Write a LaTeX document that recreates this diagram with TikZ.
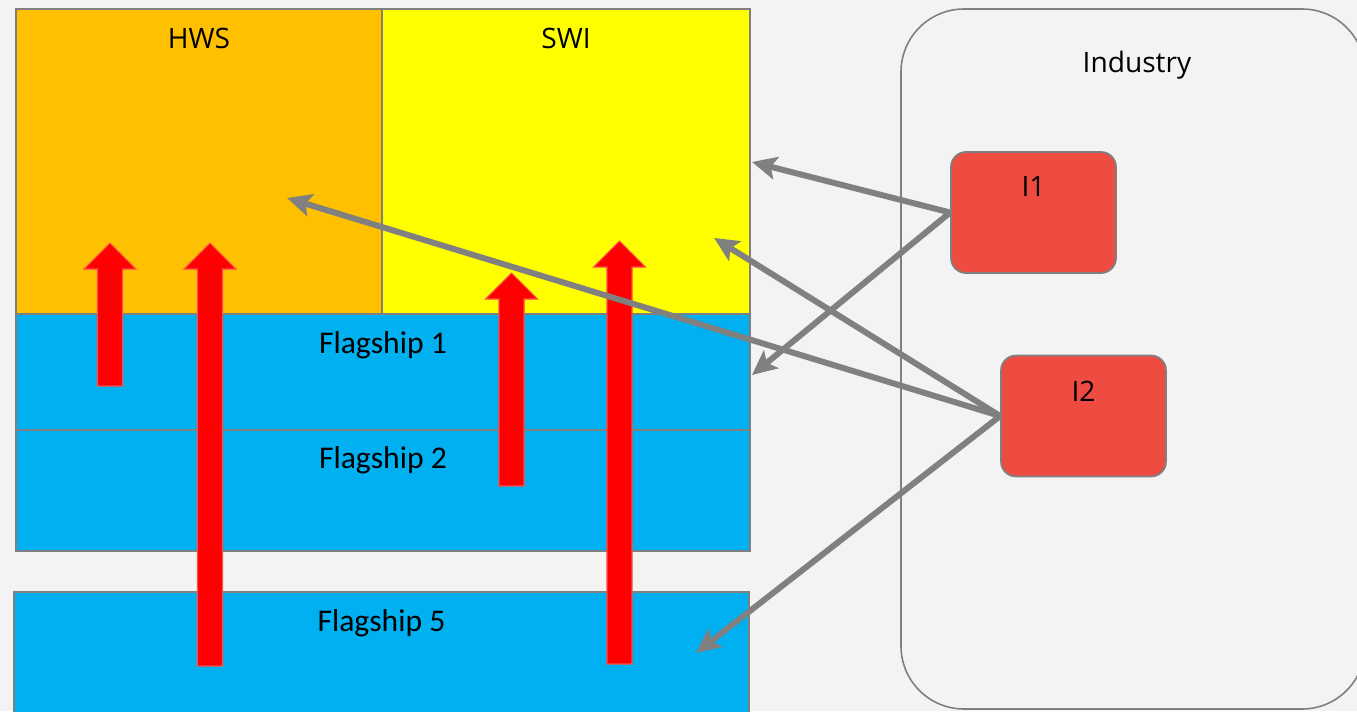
\documentclass[tikz,border=0pt]{standalone}
\usepackage{fontspec}
\setmainfont{Open Sans}
\newfontfamily\flagfont{Carlito}
\usepackage{tikz}
\usetikzlibrary{arrows.meta}

\definecolor{slidebg}{HTML}{F3F3F3}
\definecolor{hwsorange}{HTML}{FFC000}
\definecolor{swiyellow}{HTML}{FFFF00}
\definecolor{flagblue}{HTML}{00B0F0}
\definecolor{indred}{HTML}{EE4C40}
\definecolor{linkgray}{HTML}{808080}
\definecolor{edgegray}{HTML}{7F7F7F}
\definecolor{arrowedge}{HTML}{FF4B4B}

\tikzset{
  layer/.style={draw=edgegray, line width=1.2pt},
  title/.style={anchor=base, inner sep=0pt, font=\fontsize{16}{19}\selectfont},
  flagtitle/.style={anchor=base, inner sep=0pt, font=\flagfont\fontsize{18}{22}\selectfont},
  ibox/.style={draw=edgegray, line width=1pt, fill=indred, rounded corners=0.3cm,
    minimum width=3.3cm, minimum height=2.42cm, inner sep=0pt},
  redarrow/.style={fill=red, draw=arrowedge, line width=0.6pt},
  link/.style={draw=linkgray, line width=3.4pt,
    -{Stealth[length=14pt, width=13pt, inset=3pt]}}
}

\begin{document}
\begin{tikzpicture}[x=0.02cm, y=-0.02cm]
\useasboundingbox (0,0) rectangle (1357,711);
\clip (0,0) rectangle (1357,711);
\fill[slidebg] (0,0) rectangle (1357,711);

% Industry
\draw[draw=edgegray, line width=0.9pt, rounded corners=1.26cm] (901,9) rectangle (1365,709);
\node[title] (industry) at (1137,72) {Industry};

% HWS and SWI
\draw[layer, fill=hwsorange] (16,9) rectangle (382,314);
\draw[layer, fill=swiyellow] (382,9) rectangle (750,314);
\node[title] (hwstitle) at (199,48) {HWS};
\node[title] (swititle) at (566,48) {SWI};

% Flagships
\draw[layer, fill=flagblue] (16,314) rectangle (750,430);
\draw[layer, fill=flagblue] (16,430) rectangle (750,551);
\draw[layer, fill=flagblue] (14,592) rectangle (749,730);
\node[flagtitle] (flag1) at (383,353) {Flagship 1};
\node[flagtitle] (flag2) at (383,468) {Flagship 2};
\node[flagtitle] (flag5) at (381.5,631.5) {Flagship 5};

% Roter Pfeile: x / unten / Spitze
\foreach \x/\yb/\yt in {110/386/243, 210/666/243, 511.5/486/273, 619.5/664/241} {
    \filldraw[redarrow] ({\x-12.5},\yb) -- ({\x-12.5},{\yt+26}) -- ({\x-26},{\yt+26})
      -- (\x,\yt) -- ({\x+26},{\yt+26}) -- ({\x+12.5},{\yt+26}) -- ({\x+12.5},\yb) -- cycle;
}

% Partner
\node[ibox] (i1) at (1033.5,212.5) {};
\node[ibox] (i2) at (1083.5,416) {};
\node[title] (i1text) at (1033.5,196) {I1};
\node[title] (i2text) at (1083.5,401) {I2};

% Ziele
\coordinate (swiright) at (752,162);
\coordinate (flag1right) at (752,375);
\coordinate (hwsin) at (287,198);
\coordinate (swiin) at (714,238);
\coordinate (flag5in) at (696,653);

\draw[link] (i1.west) -- (swiright);
\draw[link] (i1.west) -- (flag1right);
\draw[link] (i2.west) -- (hwsin);
\draw[link] (i2.west) -- (swiin);
\draw[link] (i2.west) -- (flag5in);
\end{tikzpicture}
\end{document}
